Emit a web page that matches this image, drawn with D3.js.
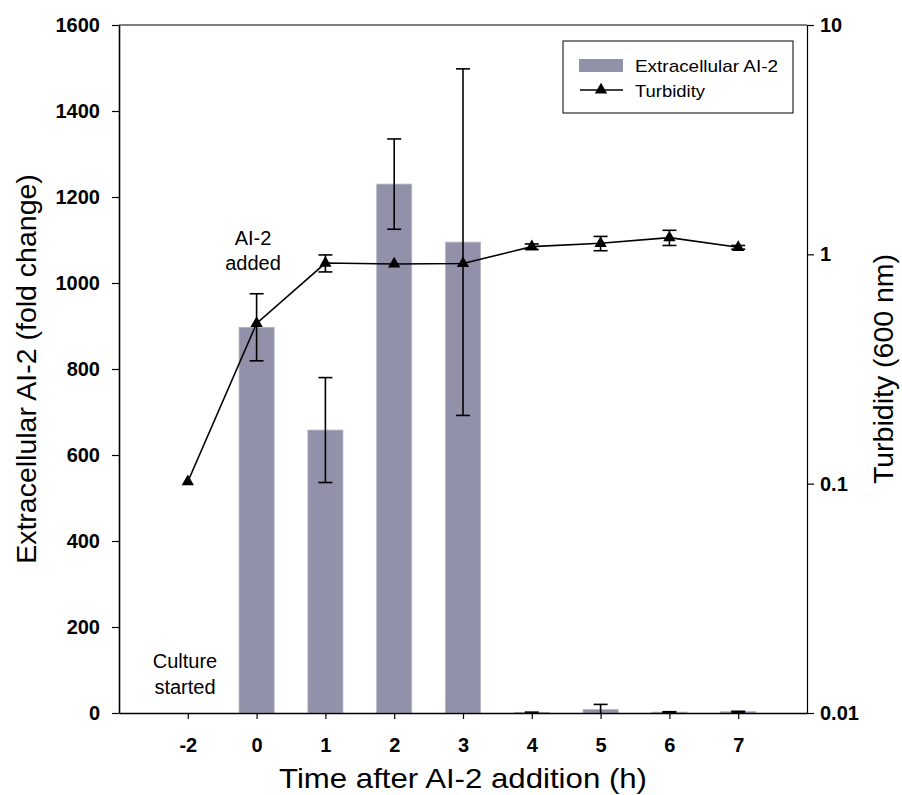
<!DOCTYPE html>
<html>
<head>
<meta charset="utf-8">
<script src="https://cdn.jsdelivr.net/npm/d3@7"></script>
<style>
  body { margin: 0; background: #fff; }
  text { font-family: "Liberation Sans", Arial, sans-serif; fill: #000; }
</style>
</head>
<body>
<svg id="chart" width="902" height="795"></svg>
<script>
const categories = ["-2", "0", "1", "2", "3", "4", "5", "6", "7"];
const ai2Values  = [0, 897, 658, 1230, 1095, 1, 8, 2, 3];
const ai2Errors  = [0, 78, 122, 105, 403, 1, 12, 1, 1];
const turbValues = [0.102, 0.50, 0.916, 0.908, 0.912, 1.08, 1.117, 1.183, 1.073];
const turbErrors = [0, 0, 0.078, 0, 0, 0.03, 0.08, 0.09, 0.02];
const leftTicks  = [0, 200, 400, 600, 800, 1000, 1200, 1400, 1600];
const rightTicks = [0.01, 0.1, 1, 10];
const rightTickLabels = ["0.01", "0.1", "1", "10"];

const svg = d3.select("#chart");
const m = { left: 119, right: 807, top: 25, bottom: 713 };

const x = d3.scalePoint().domain(categories).range([m.left, m.right]).padding(1);
const yL = d3.scaleLinear().domain([0, 1600]).range([m.bottom, m.top]);
const yR = d3.scaleLog().domain([0.01, 10]).range([m.bottom, m.top]);
const barW = x.step() * 0.51;
const barColor = "#9191aa";

// bars
svg.append("g").selectAll("rect").data(categories).join("rect")
  .attr("x", d => x(d) - barW / 2)
  .attr("width", barW)
  .attr("y", (d, i) => yL(ai2Values[i]))
  .attr("height", (d, i) => yL(0) - yL(ai2Values[i]))
  .attr("fill", barColor)
  .attr("stroke", "#b4b4c8")
  .attr("stroke-width", 0.8);

// bar error bars
const capW = 14;
const eb = svg.append("g").attr("stroke", "#000").attr("stroke-width", 1.6);
categories.forEach((c, i) => {
  if (ai2Errors[i] <= 0) return;
  const cx = x(c);
  const v = ai2Values[i], e = ai2Errors[i];
  const lo = Math.max(0, v - e);
  eb.append("line").attr("x1", cx).attr("x2", cx).attr("y1", yL(v + e)).attr("y2", yL(lo));
  eb.append("line").attr("x1", cx - capW / 2).attr("x2", cx + capW / 2).attr("y1", yL(v + e)).attr("y2", yL(v + e));
  if (v - e > 0)
    eb.append("line").attr("x1", cx - capW / 2).attr("x2", cx + capW / 2).attr("y1", yL(v - e)).attr("y2", yL(v - e));
});

// turbidity line
const line = d3.line().x((d, i) => x(categories[i])).y(d => yR(d));
svg.append("path").datum(turbValues).attr("d", line)
  .attr("fill", "none").attr("stroke", "#000").attr("stroke-width", 1.6);

// turbidity error bars
const tb = svg.append("g").attr("stroke", "#000").attr("stroke-width", 1.6);
categories.forEach((c, i) => {
  if (turbErrors[i] <= 0) return;
  const cx = x(c);
  const hi = yR(turbValues[i] + turbErrors[i]), lo = yR(turbValues[i] - turbErrors[i]);
  tb.append("line").attr("x1", cx).attr("x2", cx).attr("y1", hi).attr("y2", lo);
  tb.append("line").attr("x1", cx - capW / 2).attr("x2", cx + capW / 2).attr("y1", hi).attr("y2", hi);
  tb.append("line").attr("x1", cx - capW / 2).attr("x2", cx + capW / 2).attr("y1", lo).attr("y2", lo);
});

// triangles
const tri = d3.symbol().type(d3.symbolTriangle).size(66);
svg.append("g").selectAll("path").data(turbValues).join("path")
  .attr("d", tri)
  .attr("transform", (d, i) => `translate(${x(categories[i])},${yR(d)})`)
  .attr("fill", "#000");

// axes
const axL = svg.append("g").attr("transform", `translate(${m.left},0)`)
  .call(d3.axisLeft(yL).tickValues(leftTicks).tickFormat(d3.format("d")).tickSize(7).tickSizeOuter(0).tickPadding(12));
const axR = svg.append("g").attr("transform", `translate(${m.right},0)`)
  .call(d3.axisRight(yR).tickValues(rightTicks).tickFormat((d, i) => rightTickLabels[i]).tickSize(7).tickSizeOuter(0).tickPadding(6));
const axB = svg.append("g").attr("transform", `translate(0,${m.bottom})`)
  .call(d3.axisBottom(x).tickSize(6).tickSizeOuter(0).tickPadding(19));
svg.append("line").attr("x1", m.left).attr("x2", m.right).attr("y1", m.top).attr("y2", m.top)
  .attr("stroke", "#000").attr("stroke-width", 1.2);

[axL, axR, axB].forEach(a => {
  a.select(".domain").attr("stroke", "#000").attr("stroke-width", 1.6);
  a.selectAll(".tick line").attr("stroke", "#000").attr("stroke-width", 1.2);
  a.selectAll(".tick text").attr("font-size", 20).attr("font-weight", "bold")
    .attr("font-family", "'Liberation Sans', Arial, sans-serif").attr("fill", "#000");
});
axR.select(".domain").attr("stroke-width", 1.2);

// axis titles
svg.append("text").attr("transform", "translate(36,369) rotate(-90)")
  .attr("text-anchor", "middle").attr("font-size", 28.5).text("Extracellular AI-2 (fold change)");
svg.append("text").attr("transform", "translate(893,369) rotate(-90)")
  .attr("text-anchor", "middle").attr("font-size", 28.5).text("Turbidity (600 nm)");
svg.append("text").attr("x", 463).attr("y", 788)
  .attr("text-anchor", "middle").attr("font-size", 28.5)
  .attr("textLength", 368).attr("lengthAdjust", "spacingAndGlyphs")
  .text("Time after AI-2 addition (h)");

// annotations
const ann = svg.append("g").attr("font-size", 20).attr("text-anchor", "middle");
ann.append("text").attr("x", 253).attr("y", 245).text("AI-2");
ann.append("text").attr("x", 253).attr("y", 270).text("added");
ann.append("text").attr("x", 185).attr("y", 668).text("Culture");
ann.append("text").attr("x", 185).attr("y", 694).text("started");

// legend
const lg = svg.append("g");
lg.append("rect").attr("x", 563).attr("y", 41).attr("width", 230).attr("height", 72)
  .attr("fill", "#fff").attr("stroke", "#000").attr("stroke-width", 1);
lg.append("rect").attr("x", 579).attr("y", 59).attr("width", 44).attr("height", 13).attr("fill", barColor);
lg.append("text").attr("x", 635).attr("y", 72).attr("font-size", 17)
  .attr("textLength", 143).attr("lengthAdjust", "spacingAndGlyphs").text("Extracellular AI-2");
lg.append("line").attr("x1", 580).attr("x2", 623).attr("y1", 90).attr("y2", 90)
  .attr("stroke", "#000").attr("stroke-width", 1.6);
lg.append("path").attr("d", tri).attr("transform", "translate(601,90)").attr("fill", "#000");
lg.append("text").attr("x", 635).attr("y", 97).attr("font-size", 17)
  .attr("textLength", 70).attr("lengthAdjust", "spacingAndGlyphs").text("Turbidity");
</script>
</body>
</html>
